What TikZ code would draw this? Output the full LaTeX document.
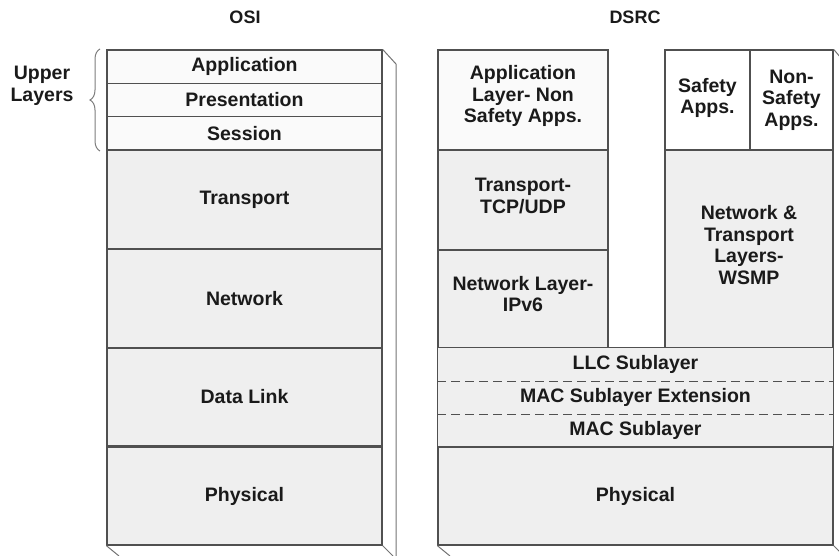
\documentclass[tikz,border=0pt]{standalone}
\usepackage{fontspec}
\setmainfont{Liberation Sans}
\usetikzlibrary{decorations.pathreplacing}
\definecolor{frame}{HTML}{505050}
\definecolor{lite}{HTML}{FAFAFA}
\definecolor{mid}{HTML}{EFEFEF}
\definecolor{txt}{HTML}{1A1A1A}
\tikzset{
  layer/.style={draw=frame, line width=1.3pt, fill=mid, inner sep=0pt, align=center,
    text=txt, font=\fontsize{19.5}{21.5}\selectfont\bfseries},
  uplayer/.style={layer, fill=lite},
  subl/.style={layer, draw=none},
  labeltext/.style={layer, draw=none, fill=none},
  edge3d/.style={draw=frame!80, line width=1pt},
  title/.style={font=\fontsize{18}{20}\selectfont\bfseries, text=txt},
}
\begin{document}
\begin{tikzpicture}[x=1pt,y=-1pt]
\useasboundingbox (0,0) rectangle (839,556);
% titles
\node[title] (tosi) at (245,17) {OSI};
\node[title] (tdsrc) at (635,17) {DSRC};
% OSI stack
\node[uplayer, minimum width=275, minimum height=33.3] (app) at (244.5,66.7) {Application};
\node[uplayer, minimum width=275, minimum height=33.3] (pres) at (244.5,100) {Presentation};
\node[uplayer, minimum width=275, minimum height=33.3] (sess) at (244.5,133.3) {Session};
\node[layer, minimum width=275, minimum height=99] (trans) at (244.5,199.5) {Transport};
\node[layer, minimum width=275, minimum height=99] (net) at (244.5,298.5) {Network};
\node[layer, minimum width=275, minimum height=98] (dl) at (244.5,397) {Data Link};
\node[layer, minimum width=275, minimum height=98] (phy) at (244.5,496) {Physical};
% OSI 3D edges
\coordinate (o1) at (396,64);
\coordinate (o2) at (396,556);
\coordinate (o3) at (393,556);
\coordinate (o4) at (119,556);
\draw[edge3d] (app.north east) -- (o1) -- (o2);
\draw[edge3d] (phy.south east) -- (o3);
\draw[edge3d] (phy.south west) -- (o4);
% brace
\draw[frame!75, line width=1pt, decorate, decoration={brace, amplitude=10pt}]
  (100,151) -- (100,49);
\node[font=\fontsize{19.5}{22}\selectfont\bfseries, text=txt, align=center] (upper) at (42,86) {Upper\\Layers};
% DSRC left column
\node[uplayer, minimum width=170, minimum height=100] (dapp) at (523,100) {};
\node[labeltext] (dappt) at (523,96) {Application\\Layer- Non\\Safety Apps.};
\node[layer, minimum width=170, minimum height=100] (dtcp) at (523,200) {};
\node[labeltext] (dtcpt) at (523,196) {Transport-\\TCP/UDP};
\node[layer, minimum width=170, minimum height=98] (dip) at (523,299) {};
\node[labeltext] (dipt) at (523,294) {Network Layer-\\IPv6};
% DSRC right column
\node[uplayer, fill=white, minimum width=85, minimum height=100] (safe) at (707.5,100) {};
\node[labeltext] (safet) at (707.5,98) {Safety\\Apps.};
\node[uplayer, fill=white, minimum width=83, minimum height=100] (nonsafe) at (791.5,100) {};
\node[labeltext] (nonsafet) at (791.5,100) {Non-\\Safety\\Apps.};
\node[layer, minimum width=168, minimum height=198] (wsmp) at (749,249) {};
\node[labeltext] (wsmpt) at (749,245) {Network \&\\Transport\\Layers-\\WSMP};
% DSRC sublayers
\node[subl, fill=mid, minimum width=395, minimum height=33] (llc) at (635.5,364.5) {LLC Sublayer};
\node[subl, fill=mid, minimum width=395, minimum height=33] (macx) at (635.5,397.5) {MAC Sublayer Extension};
\node[subl, fill=mid, minimum width=395, minimum height=33] (mac) at (635.5,430.5) {MAC Sublayer};
\draw[frame, line width=1.3pt] (llc.north west) rectangle (mac.south east);
\draw[frame, line width=1pt, dash pattern=on 9pt off 5pt] (llc.south west) -- (llc.south east);
\draw[frame, line width=1pt, dash pattern=on 9pt off 5pt] (macx.south west) -- (macx.south east);
\node[layer, minimum width=395, minimum height=98] (dphy) at (635.5,496) {Physical};
% DSRC 3D edges
\coordinate (d1) at (841,58);
\coordinate (d2) at (841,553);
\coordinate (d3) at (450,556);
\draw[edge3d] (nonsafe.north east) -- (d1);
\draw[edge3d] (dphy.south east) -- (d2);
\draw[edge3d] (dphy.south west) -- (d3);
\end{tikzpicture}
\end{document}
